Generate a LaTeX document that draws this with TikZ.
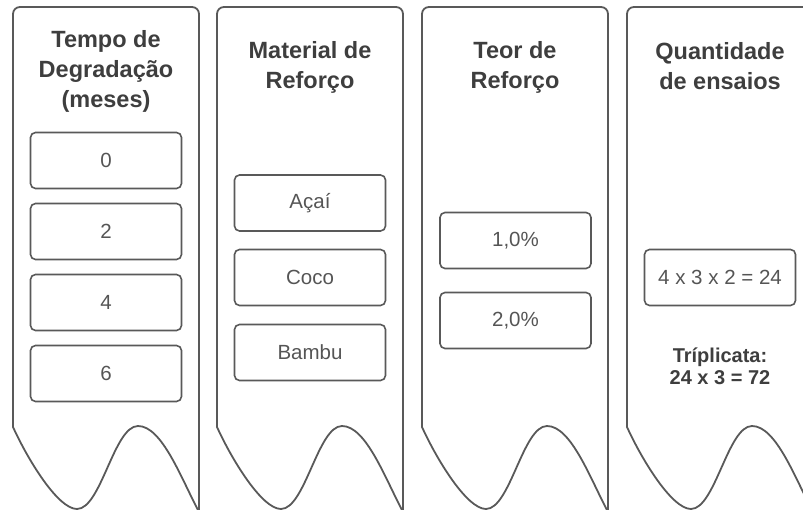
\documentclass[tikz,border=0pt]{standalone}
\usepackage{fontspec}
\setmainfont{Liberation Sans}
\definecolor{ln}{HTML}{595959}
\definecolor{tt}{HTML}{3E3E3E}
\definecolor{bt}{HTML}{555555}
\tikzset{
  panel/.style={draw=ln, line width=1.8pt, line join=round},
  item/.style={draw=ln, line width=1.6pt, rounded corners=5pt, minimum width=151pt,
    minimum height=56pt, inner sep=0pt, font=\fontsize{20.5}{24}\selectfont, text=bt},
  title/.style={font=\fontsize{23.5}{30}\selectfont\bfseries, text=tt, align=center, inner sep=0pt},
  note/.style={font=\fontsize{20}{22}\selectfont\bfseries, text=tt, align=center, inner sep=0pt},
}
\newcommand\wavepanel[1]{%
  \draw[panel] ({#1},427) -- ({#1},14) arc[start angle=180,end angle=90,radius=7pt]
    -- ({#1+179},7) arc[start angle=90,end angle=0,radius=7pt]
    -- ({#1+186},512)
    .. controls ({#1+168},478) and ({#1+149},426) .. ({#1+125},426)
    .. controls ({#1+101},426) and ({#1+88},509) .. ({#1+64},509)
    .. controls ({#1+45},509) and ({#1+15},460) .. ({#1},427) -- cycle;}
\begin{document}
\begin{tikzpicture}[x=1pt,y=-1pt]
  \useasboundingbox (0,0) rectangle (803,510);
  \begin{scope}
    \clip (0,0) rectangle (803,510);
    \wavepanel{13}
    \wavepanel{217}
    \wavepanel{422}
    \wavepanel{627}
  \end{scope}
  % panel 1
  \node[title] (t1) at (106,71) {Tempo de\\Degradação\\(meses)};
  \node[item] (m0) at (106,160.5) {0};
  \node[item] (m2) at (106,231.5) {2};
  \node[item] (m4) at (106,302.5) {4};
  \node[item] (m6) at (106,373.5) {6};
  % panel 2
  \node[title] (t2) at (310,67) {Material de\\Reforço};
  \node[item] (acai) at (310,203) {Açaí};
  \node[item] (coco) at (310,277.5) {Coco};
  \node[item] (bambu) at (310,352.5) {Bambu};
  % panel 3
  \node[title] (t3) at (515,67) {Teor de\\Reforço};
  \node[item] (p1) at (515.5,240.5) {1,0\%};
  \node[item] (p2) at (515.5,320.5) {2,0\%};
  % panel 4
  \node[title] (t4) at (720,66) {Quantidade\\de ensaios};
  \node[item] (calc) at (720,277.5) {4 x 3 x 2 = 24};
  \node[note] (trip) at (720,366) {Tríplicata:\\24 x 3 = 72};
\end{tikzpicture}
\end{document}
